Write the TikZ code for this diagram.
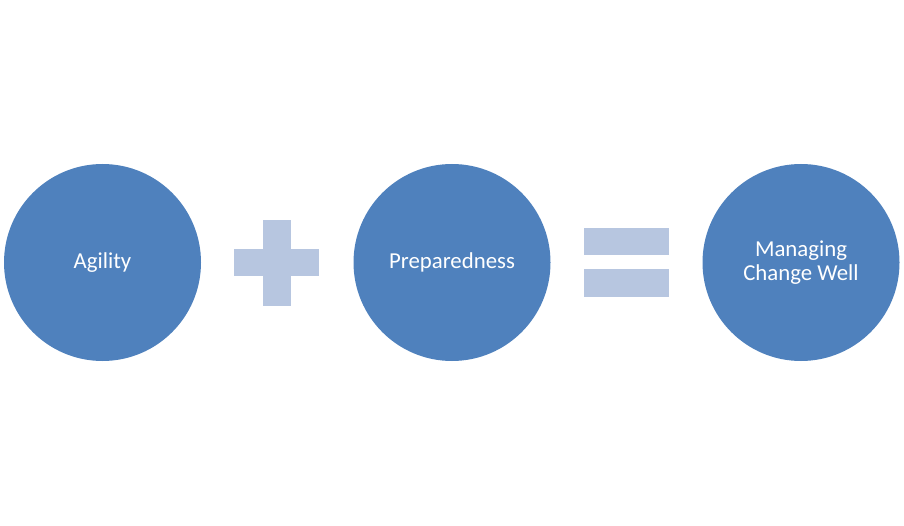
\documentclass[tikz,border=0pt]{standalone}
\usepackage{fontspec}
\setmainfont{Carlito}
\definecolor{circblue}{RGB}{79,129,189}
\definecolor{opblue}{RGB}{183,198,224}
\begin{document}
\begin{tikzpicture}[x=1pt,y=1pt,
  circ/.style={circle,fill=circblue,draw=none,minimum size=197pt,inner sep=0pt,text=white,font=\fontsize{22.8}{24.5}\selectfont,align=center},
  opbar/.style={fill=opblue,draw=none}]
\useasboundingbox (0,0) rectangle (904,525);
\node[circ] (agility) at (102.5,262.5) {Agility};
\node[circ] (prep) at (452,262.5) {Preparedness};
\node[circ] (manage) at (801,262.5) {Managing\\Change Well};
% plus
\path[opbar] (234,249) rectangle (319.3,276);
\path[opbar] (263.3,219.3) rectangle (290.7,305.3);
% equals
\path[opbar] (584,525-228.3) rectangle (669.3,525-255.3);
\path[opbar] (584,525-269.3) rectangle (669.3,525-296.7);
\end{tikzpicture}
\end{document}
